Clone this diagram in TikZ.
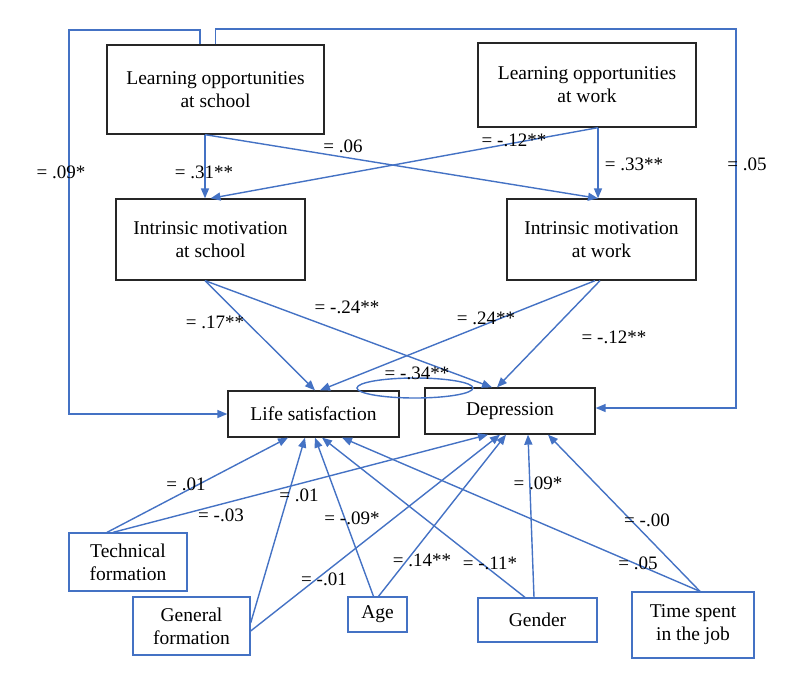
\documentclass[tikz,border=0pt]{standalone}
\usepackage{fontspec}
\setmainfont{Liberation Serif}
\usetikzlibrary{arrows.meta}
\definecolor{pathblue}{RGB}{68,114,196}

\begin{document}
\begin{tikzpicture}[x=1pt,y=-1pt,
    box/.style={draw=black!85,fill=white,line width=1.3pt,align=center,inner sep=0pt,
                font=\fontsize{19.5}{23}\selectfont},
    covbox/.style={box,draw=pathblue},
    link/.style={draw=pathblue,line width=1.4pt,-{Triangle[length=10pt,width=8pt]}},
    wt/.style={font=\fontsize{19}{23}\selectfont,inner sep=0pt}]
\useasboundingbox (0,0) rectangle (800,681);

% predictors and mediators
\node (LOS) [box,minimum width=217pt,minimum height=89pt] at (215.5,89.5) {Learning opportunities\\at school};
\node (LOW) [box,minimum width=218pt,minimum height=84pt] at (587,85)     {Learning opportunities\\at work};
\node (IMS) [box,minimum width=189pt,minimum height=81pt] at (210.5,239.5) {Intrinsic motivation\\at school};
\node (IMW) [box,minimum width=189pt,minimum height=81pt] at (601.5,239.5) {Intrinsic motivation\\at work};
\node (LS)  [box,minimum width=171pt,minimum height=46pt] at (313.5,414)  {Life satisfaction};
\node (Dep) [box,minimum width=170pt,minimum height=46pt] at (510,411)    {Depression};

% control variables
\node (Tech)   [covbox,minimum width=118pt,minimum height=58pt] at (128,562)   {Technical\\formation};
\node (Gen)    [covbox,minimum width=117pt,minimum height=58pt] at (191.5,626) {General\\formation};
\node (Age)    [covbox,minimum width=59pt,minimum height=35pt]  at (377.5,614.5) {Age};
\node (Gender) [covbox,minimum width=119pt,minimum height=44pt] at (537.5,620) {Gender};
\node (Time)   [covbox,minimum width=122pt,minimum height=66pt] at (693,625)   {Time spent\\in the job};

\coordinate (cL) at (69,30);
\coordinate (cR) at (736,29);

% paths
\draw[link] ([xshift=-15.5pt]LOS.north) |- (cL) |- (LS.west);
\draw[link] (LOS.north) |- (cR) |- ([yshift=3pt]Dep.east);
\draw[link] ([xshift=-10.5pt]LOS.south) -- ([xshift=-5.5pt]IMS.north);
\draw[link] ([xshift=-10.5pt]LOS.south) -- ([xshift=-3.5pt]IMW.north);
\draw[link] ([xshift=11pt]LOW.south) -- (IMS.north);
\draw[link] ([xshift=11pt]LOW.south) -- ([xshift=-3.5pt]IMW.north);
\draw[link] ([xshift=-5.5pt]IMS.south) -- ([xshift=1.5pt]LS.north);
\draw[link] ([xshift=-5.5pt]IMS.south) -- ([xshift=-18pt]Dep.north);
\draw[link] ([xshift=-6.5pt]IMW.south) -- ([xshift=6.5pt]LS.north);
\draw[link] ([xshift=-1.5pt]IMW.south) -- ([xshift=-13pt]Dep.north);

\draw[link] ([xshift=-21pt]Tech.north) -- ([xshift=-25.5pt]LS.south);
\draw[link] ([xshift=-15pt]Tech.north) -- ([xshift=-22pt]Dep.south);
\draw[link] ([yshift=3pt]Gen.east)     -- ([xshift=-8.5pt]LS.south);
\draw[link] ([yshift=-5pt]Gen.east)    -- ([xshift=-10pt]Dep.south);
\draw[link] ([xshift=-4pt]Age.north)   -- ([xshift=1.5pt]LS.south);
\draw[link] ([xshift=1pt]Age.north)    -- ([xshift=-4pt]Dep.south);
\draw[link] ([xshift=-12.5pt]Gender.north) -- ([xshift=8.5pt]LS.south);
\draw[link] ([xshift=-3.5pt]Gender.north)  -- ([xshift=18pt]Dep.south);
\draw[link] ([xshift=7pt]Time.north)   -- ([xshift=28.5pt]LS.south);
\draw[link] ([xshift=7pt]Time.north)   -- ([xshift=38pt]Dep.south);

% residual covariance
\draw[pathblue,line width=1.4pt] (415,388) ellipse (58 and 10);

% estimates
\node (wLSc)  [wt] at (61,172)  {= .09*};
\node (wIMS)  [wt] at (204,172) {= .31**};
\node (wLSw)  [wt] at (343,146) {= .06};
\node (wLWs)  [wt] at (514,140) {= -.12**};
\node (wIMW)  [wt] at (634,164) {= .33**};
\node (wDep)  [wt] at (747,164) {= .05};
\node (wSLS)  [wt] at (215,322) {= .17**};
\node (wSDep) [wt] at (347,307) {= -.24**};
\node (wWLS)  [wt] at (486,318) {= .24**};
\node (wWDep) [wt] at (614,337) {= -.12**};
\node (wCov)  [wt] at (417,373) {= -.34**};
\node (wT1)   [wt] at (186,484) {= .01};
\node (wT2)   [wt] at (221,515) {= -.03};
\node (wG1)   [wt] at (299,495) {= .01};
\node (wG2)   [wt] at (324,579) {= -.01};
\node (wA1)   [wt] at (352,518) {= -.09*};
\node (wA2)   [wt] at (422,560) {= .14**};
\node (wS1)   [wt] at (490,563) {= -.11*};
\node (wS2)   [wt] at (538,483) {= .09*};
\node (wJ1)   [wt] at (638,563) {= .05};
\node (wJ2)   [wt] at (647,520) {= -.00};
\end{tikzpicture}
\end{document}
